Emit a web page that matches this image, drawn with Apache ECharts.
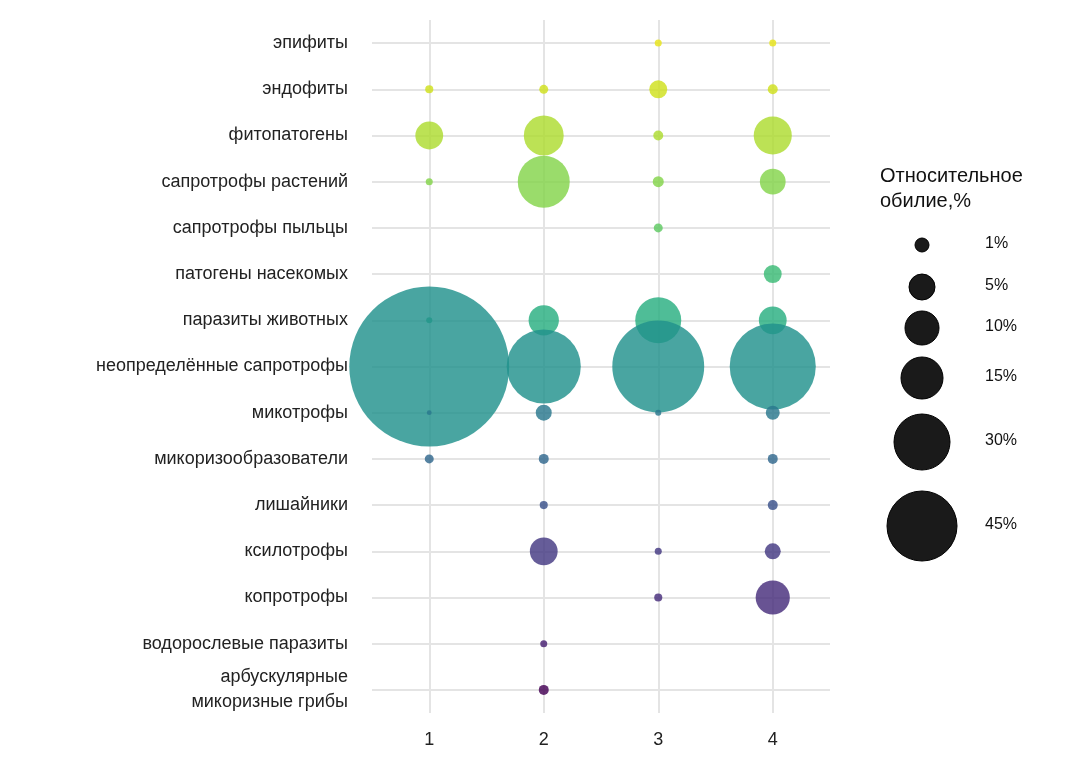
<!DOCTYPE html>
<html>
<head>
<meta charset="utf-8">
<script src="https://cdn.jsdelivr.net/npm/echarts@6/dist/echarts.min.js"></script>
<style>html,body{margin:0;padding:0;background:#fff}#main{width:1084px;height:766px}</style>
</head>
<body>
<div id="main"></div>
<script>
// categories
var samples = ['1', '2', '3', '4'];
var groups = ['эпифиты', 'эндофиты', 'фитопатогены', 'сапротрофы растений', 'сапротрофы пыльцы',
  'патогены насекомых', 'паразиты животных', 'неопределённые сапротрофы', 'микотрофы',
  'микоризообразователи', 'лишайники', 'ксилотрофы', 'копротрофы', 'водорослевые паразиты',
  'арбускулярные\nмикоризные грибы'];
var groupColors = ['#e8e419', '#d0e11c', '#addc30', '#84d44b', '#5ec962', '#3bbb75', '#28ae80',
  '#21918c', '#2a788e', '#31688e', '#3b528b', '#443983', '#472d7b', '#482173', '#440154'];
// relative abundance, % (null = absent), one array per sample
var sample1 = [null, 0.08, 1.9, 0.05, null, null, 0.03, 76, 0.01, 0.11, null, null, null, null, null];
var sample2 = [null, 0.11, 4.2, 7.4, null, null, 2.3, 15.6, 0.52, 0.15, 0.08, 1.9, null, 0.05, 0.15];
var sample3 = [0.05, 0.69, 0.15, 0.2, 0.11, null, 5.7, 24.4, 0.03, null, null, 0.05, 0.08, null, null];
var sample4 = [0.05, 0.15, 3.8, 1.6, null, 0.69, 1.9, 21.3, 0.37, 0.15, 0.15, 0.52, 3.0, null, null];
// size legend
var legendValues = ['1%', '5%', '10%', '15%', '30%', '45%'];

var columns = [sample1, sample2, sample3, sample4];
var data = [];
for (var c = 0; c < columns.length; c++) {
  for (var r = 0; r < groups.length; r++) {
    if (columns[c][r] != null) {
      data.push({
        value: [samples[c], groups[r], columns[c][r]],
        itemStyle: { color: groupColors[r] }
      });
    }
  }
}

// grid lines through category centres
var gridLines = [];
samples.forEach(function (s) { gridLines.push({ xAxis: s }); });
groups.forEach(function (g) { gridLines.push({ yAxis: g }); });

var legendSizes = [14, 26, 34, 42, 56, 70];
var legendY = [245, 287, 328, 378, 442, 526];
var graphics = [{
  type: 'text', left: 880, top: 164,
  style: { text: 'Относительное\nобилие,%', fontSize: 20, lineHeight: 25, fill: '#111', fontFamily: 'Liberation Sans' }
}];
for (var i = 0; i < legendValues.length; i++) {
  graphics.push({
    type: 'circle', shape: { cx: 922, cy: legendY[i], r: legendSizes[i] / 2 },
    style: { fill: '#1a1a1a', stroke: '#000', lineWidth: 1 }
  });
  graphics.push({
    type: 'text', left: 985, top: legendY[i] - 9,
    style: { text: legendValues[i], fontSize: 16, fill: '#111', fontFamily: 'Liberation Sans' }
  });
}

var option = {
  backgroundColor: '#fff',
  grid: { left: 372, right: 254, top: 20, bottom: 53 },
  xAxis: {
    type: 'category', data: samples, boundaryGap: true,
    axisLine: { show: false }, axisTick: { show: false },
    axisLabel: { fontSize: 18, color: '#222', margin: 18, fontFamily: 'Liberation Sans' },
    splitLine: { show: false }
  },
  yAxis: {
    type: 'category', data: groups, inverse: true, boundaryGap: true,
    axisLine: { show: false }, axisTick: { show: false },
    axisLabel: { fontSize: 18, color: '#222', margin: 24, lineHeight: 25, fontFamily: 'Liberation Sans' },
    splitLine: { show: false }
  },
  series: [{
    type: 'scatter',
    data: data,
    symbolSize: function (v) { return 18 * Math.sqrt(v[2]) + 3; },
    itemStyle: { opacity: 0.82 },
    z: 3,
    markLine: {
      silent: true, symbol: 'none', label: { show: false },
      lineStyle: { color: '#e4e4e4', width: 2, type: 'solid' },
      data: gridLines,
      z: 1
    }
  }],
  graphic: graphics
};
var myChart = echarts.init(document.getElementById('main'));
myChart.setOption(option);
</script>
</body>
</html>
